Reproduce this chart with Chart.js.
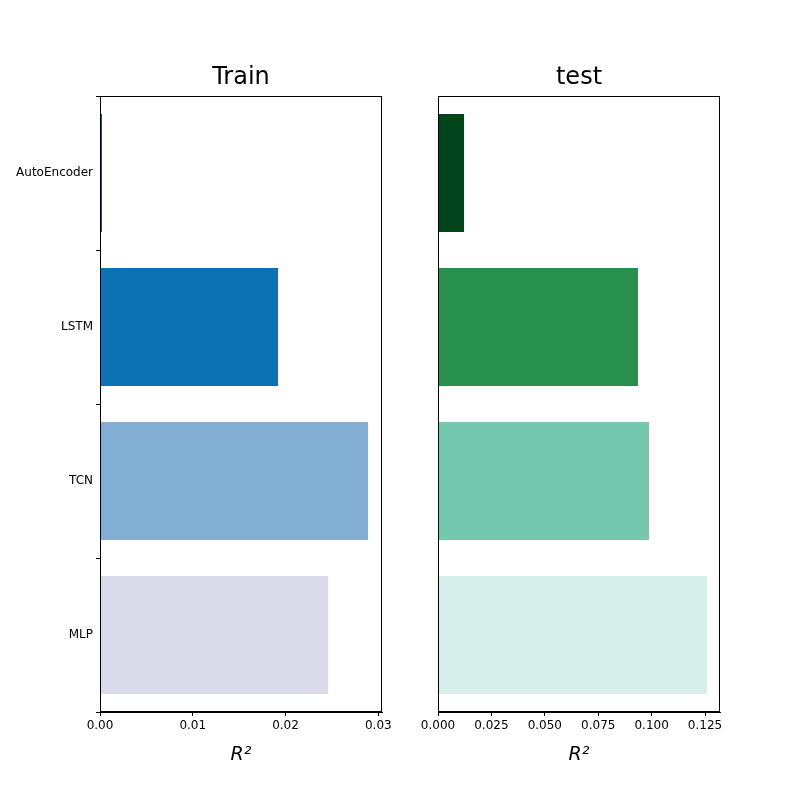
<!DOCTYPE html>
<html>
<head>
<script src="https://cdn.jsdelivr.net/npm/chart.js@4"></script>
<style>
body { margin: 0; background: #fff; }
.wrap { position: absolute; top: 0; width: 400px; height: 800px; }
</style>
</head>
<body>
<div class="wrap" style="left:0"><canvas id="train"></canvas></div>
<div class="wrap" style="left:400px"><canvas id="test"></canvas></div>
<script>
// data, top to bottom as in the picture
const models = ['AutoEncoder', 'LSTM', 'TCN', 'MLP'];
const trainR2 = [0.0002, 0.0192, 0.0289, 0.0246];
const testR2 = [0.0122, 0.0936, 0.0988, 0.126];
const trainTicks = [0, 0.01, 0.02, 0.03];
const testTicks = [0, 0.025, 0.05, 0.075, 0.1, 0.125];
const trainColors = ['#08304f', '#0c72b4', '#81aed2', '#dadaeb'];
const testColors = ['#00441b', '#27904f', '#74c8ae', '#d6efea'];

const frame = {
    id: 'frame',
    afterDraw(chart) {
        const a = chart.chartArea, ctx = chart.ctx;
        ctx.save();
        ctx.strokeStyle = '#000';
        ctx.lineWidth = 1;
        ctx.strokeRect(a.left + 0.5, a.top + 0.5, a.right - a.left - 1, a.bottom - a.top - 1);
        ctx.fillStyle = '#000';
        ctx.font = '24px "DejaVu Sans"';
        ctx.textAlign = 'center';
        ctx.textBaseline = 'middle';
        ctx.fillText(chart.options.plugins.frame.title, (a.left + a.right) / 2, 78);
        ctx.restore();
    }
};

function makeChart(id, title, values, colors, opts) {
    const c = document.getElementById(id);
    c.width = 400;
    c.height = 800;
    new Chart(c, {
        type: 'bar',
        data: {
            labels: models,
            datasets: [{
                data: values,
                backgroundColor: colors,
                barPercentage: 0.766,
                categoryPercentage: 1
            }]
        },
        options: {
            indexAxis: 'y',
            responsive: false,
            animation: false,
            layout: { padding: { top: 96, right: opts.padRight, bottom: 30 } },
            plugins: {
                legend: { display: false },
                tooltip: { enabled: false },
                frame: { title: title }
            },
            scales: {
                x: {
                    type: 'linear',
                    min: 0,
                    max: opts.max,
                    afterFit: s => { s.height = 58; },
                    afterBuildTicks: s => { s.ticks = opts.ticks.map(v => ({ value: v })); },
                    grid: { drawOnChartArea: false, color: '#000', tickLength: 4 },
                    border: { color: '#000' },
                    ticks: {
                        color: '#000',
                        font: { family: 'DejaVu Sans', size: 12 },
                        maxRotation: 0,
                        callback: v => v.toFixed(opts.dec)
                    },
                    title: {
                        display: true,
                        text: 'R²',
                        color: '#000',
                        font: { family: 'DejaVu Sans', size: 19, style: 'italic' },
                        padding: { top: 2 }
                    }
                },
                y: {
                    afterFit: s => { s.width = opts.yWidth; },
                    grid: { display: opts.yTicks, drawOnChartArea: false, color: '#000', tickLength: 4 },
                    border: { color: '#000' },
                    ticks: {
                        display: opts.yTicks,
                        color: '#000',
                        font: { family: 'DejaVu Sans', size: 12 }
                    }
                }
            }
        },
        plugins: [frame]
    });
}

makeChart('train', 'Train', trainR2, trainColors, { max: 0.0304, ticks: trainTicks, dec: 2, padRight: 18, yWidth: 100, yTicks: true });
makeChart('test', 'test', testR2, testColors, { max: 0.132, ticks: testTicks, dec: 3, padRight: 80, yWidth: 38, yTicks: false });
</script>
</body>
</html>
